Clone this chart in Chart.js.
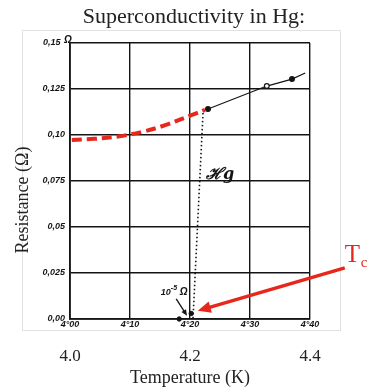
<!DOCTYPE html>
<html><head><meta charset="utf-8">
<script src="https://cdn.jsdelivr.net/npm/chart.js@4.4.1/dist/chart.umd.min.js"></script>
<style>html,body{margin:0;padding:0;background:#fff}canvas{display:block}</style>
</head><body>
<canvas id="c" width="369" height="390"></canvas>
<script>
// ---- data ----
const tempTicks = [4.0, 4.1, 4.2, 4.3, 4.4];
const tempTickLabels = ['4°00', '4°10', '4°20', '4°30', '4°40'];
const outerTempTicks = [4.0, 4.2, 4.4];
const outerTempLabels = ['4.0', '4.2', '4.4'];
const resTicks = [0, 0.025, 0.05, 0.075, 0.10, 0.125, 0.15];
const resTickLabels = ['0,00', '0,025', '0,05', '0,075', '0,10', '0,125', '0,15\u2002'];

const measuredT = [4.23, 4.328, 4.37, 4.392];
const measuredR = [0.1141, 0.1266, 0.1304, 0.1337];
const highlightT = [4.003, 4.04, 4.08, 4.12, 4.16, 4.20, 4.225];
const highlightR = [0.0973, 0.0979, 0.0992, 0.1017, 0.1055, 0.1105, 0.1136];
const dropT = [4.2217, 4.205];
const dropR = [0.112, 0.0];
const lowT = [4.182, 4.202];
const lowR = [0.0, 0.003];

const tcArrowFrom = [4.458, 0.0278];
const tcArrowTo = [4.213, 0.0045];
const tcLabelAt = [4.458, 0.0311];
const smallArrowFrom = [4.177, 0.0109];
const smallArrowTo = [4.195, 0.0018];
const smallLabelAt = [4.173, 0.0152];
const hgLabelAt = [4.25, 0.0783];

const titleText = 'Superconductivity in Hg:';
const xTitleText = 'Temperature (K)';
const yTitleText = 'Resistance (\u03A9)';

const RED = '#e8271c';
const INK = '#141414';

const pts = (xs, ys) => xs.map((x, i) => ({x: x, y: ys[i]}));

function arrow(ctx, x1, y1, x2, y2, head, width, color) {
  const a = Math.atan2(y2 - y1, x2 - x1);
  ctx.save();
  ctx.strokeStyle = color; ctx.fillStyle = color; ctx.lineWidth = width;
  ctx.beginPath();
  ctx.moveTo(x1, y1);
  ctx.lineTo(x2 - Math.cos(a) * head * 0.8, y2 - Math.sin(a) * head * 0.8);
  ctx.stroke();
  ctx.beginPath();
  ctx.moveTo(x2, y2);
  ctx.lineTo(x2 - head * Math.cos(a) + head * 0.45 * Math.sin(a), y2 - head * Math.sin(a) - head * 0.45 * Math.cos(a));
  ctx.lineTo(x2 - head * Math.cos(a) - head * 0.45 * Math.sin(a), y2 - head * Math.sin(a) + head * 0.45 * Math.cos(a));
  ctx.closePath();
  ctx.fill();
  ctx.restore();
}

const decor = {
  id: 'decor',
  beforeDraw(chart) {
    const ctx = chart.ctx;
    ctx.save();
    ctx.fillStyle = '#fff';
    ctx.fillRect(0, 0, chart.width, chart.height);
    ctx.strokeStyle = '#e2e2e2';
    ctx.lineWidth = 1;
    ctx.strokeRect(22.5, 30.5, 318, 300);
    ctx.restore();
  },
  afterDraw(chart) {
    const ctx = chart.ctx;
    const xs = chart.scales.x, ys = chart.scales.y;
    const px = v => xs.getPixelForValue(v), py = v => ys.getPixelForValue(v);
    const area = chart.chartArea;
    ctx.save();
    // chart title
    ctx.fillStyle = '#222';
    ctx.font = '22px "Liberation Serif"';
    ctx.textAlign = 'center';
    ctx.textBaseline = 'alphabetic';
    ctx.fillText(titleText, 194, 23);
    // y title
    ctx.save();
    ctx.translate(28, 200);
    ctx.rotate(-Math.PI / 2);
    ctx.font = '18px "Liberation Serif"';
    ctx.fillText(yTitleText, 0, 0);
    ctx.restore();
    // Ω unit next to top tick
    ctx.fillStyle = INK;
    ctx.font = 'bold italic 10px "Liberation Sans"';
    ctx.textAlign = 'left';
    ctx.fillText('\u03A9', area.left - 6, area.top - 0.5);
    // Hg label
    ctx.font = 'italic bold 16px "DejaVu Serif"';
    ctx.textAlign = 'center';
    ctx.textBaseline = 'middle';
    ctx.fillText('\u210Bg', px(hgLabelAt[0]), py(hgLabelAt[1]));
    // 10^-5 Ω label
    const lx = px(smallLabelAt[0]), ly = py(smallLabelAt[1]);
    ctx.font = 'bold italic 9px "Liberation Sans"';
    ctx.textAlign = 'right';
    ctx.fillText('10', lx - 3, ly + 1);
    ctx.font = 'bold italic 7px "Liberation Sans"';
    ctx.textAlign = 'left';
    ctx.fillText('-5', lx - 3, ly - 3);
    ctx.font = 'bold italic 10px "Liberation Sans"';
    ctx.fillText('\u03A9', lx + 6, ly + 1);
    arrow(ctx, px(smallArrowFrom[0]), py(smallArrowFrom[1]), px(smallArrowTo[0]), py(smallArrowTo[1]), 6, 1.3, INK);
    // Tc arrow and label
    arrow(ctx, px(tcArrowFrom[0]), py(tcArrowFrom[1]), px(tcArrowTo[0]), py(tcArrowTo[1]), 13, 3.5, RED);
    ctx.fillStyle = RED;
    ctx.textAlign = 'left';
    ctx.textBaseline = 'alphabetic';
    ctx.font = '25px "Liberation Serif"';
    const tx = px(tcLabelAt[0]), ty = py(tcLabelAt[1]);
    ctx.fillText('T', tx, ty);
    ctx.font = '15px "Liberation Serif"';
    ctx.fillText('c', tx + 16, ty + 5);
    ctx.restore();
  }
};

new Chart(document.getElementById('c'), {
  type: 'line',
  data: {
    datasets: [
      {
        data: pts(highlightT, highlightR),
        borderColor: RED, borderWidth: 4, borderDash: [10, 5],
        pointRadius: 0, tension: 0.4, fill: false
      },
      {
        data: pts(measuredT, measuredR),
        borderColor: INK, borderWidth: 1.2,
        pointRadius: [2.4, 2.4, 2.4, 0],
        pointBackgroundColor: [INK, '#fff', INK, INK],
        pointBorderColor: INK, pointBorderWidth: 1.2,
        tension: 0, fill: false
      },
      {
        data: pts(dropT, dropR),
        borderColor: INK, borderWidth: 1.6, borderDash: [1.5, 2.5],
        pointRadius: 0, tension: 0, fill: false
      },
      {
        data: pts(lowT, lowR),
        showLine: false,
        pointRadius: 2.2, pointBackgroundColor: INK, pointBorderColor: INK, clip: false
      }
    ]
  },
  options: {
    responsive: false,
    animation: false,
    devicePixelRatio: 1,
    layout: {padding: {top: 43, right: 59, left: 0, bottom: 0}},
    plugins: {legend: {display: false}, tooltip: {enabled: false}, title: {display: false}},
    scales: {
      x: {
        type: 'linear', position: 'bottom', min: 4.0, max: 4.4,
        afterBuildTicks: s => { s.ticks = tempTicks.map(v => ({value: v})); },
        ticks: {
          autoSkip: false, maxRotation: 0, padding: 0, color: INK,
          font: {family: 'Liberation Sans', size: 9, style: 'italic', weight: 'bold'},
          callback: v => tempTickLabels[tempTicks.findIndex(t => Math.abs(t - v) < 1e-6)]
        },
        grid: {color: INK, lineWidth: 1.4, drawTicks: false},
        border: {color: INK, width: 1.8},
        afterFit: s => { s.height = 12; }
      },
      x2: {
        type: 'linear', position: 'bottom', min: 4.0, max: 4.4,
        afterBuildTicks: s => { s.ticks = outerTempTicks.map(v => ({value: v})); },
        ticks: {
          autoSkip: false, maxRotation: 0, padding: 15, color: '#222',
          font: {family: 'Liberation Serif', size: 17},
          callback: v => outerTempLabels[outerTempTicks.findIndex(t => Math.abs(t - v) < 1e-6)]
        },
        grid: {display: false, drawTicks: false},
        border: {display: false},
        title: {display: true, text: xTitleText, color: '#222',
          font: {family: 'Liberation Serif', size: 18}, padding: {top: 0, bottom: 1}},
        afterFit: s => { s.height = 59; }
      },
      y: {
        type: 'linear', position: 'left', min: 0, max: 0.15,
        afterBuildTicks: s => { s.ticks = resTicks.map(v => ({value: v})); },
        ticks: {
          autoSkip: false, padding: 5, color: INK,
          font: {family: 'Liberation Sans', size: 9, style: 'italic', weight: 'bold'},
          callback: v => resTickLabels[resTicks.findIndex(t => Math.abs(t - v) < 1e-6)]
        },
        grid: {color: INK, lineWidth: 1.4, drawTicks: false},
        border: {color: INK, width: 1.8},
        afterFit: s => { s.width = 70; }
      }
    }
  },
  plugins: [decor]
});
</script>
</body></html>
